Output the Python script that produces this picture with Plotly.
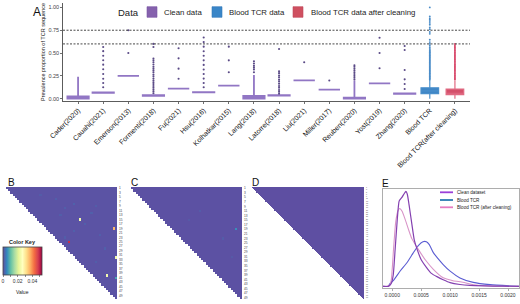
import plotly.graph_objects as go

FONT = "Liberation Sans, Arial, Helvetica, sans-serif"
W, H = 520, 304

# ---------------- Panel A data ----------------
categories = ["Cader(2020)", "Cauahi(2021)", "Emerson(2013)", "Formenti(2018)", "Fu(2021)",
              "Hsu(2016)", "Kolhatkar(2015)", "Lang(2018)", "Latorre(2018)", "Liu(2021)",
              "Miller(2017)", "Reuben(2020)", "Yost(2019)", "Zhang(2020)", "Blood TCR",
              "Blood TCR(after cleaning)"]
clean_cats = categories[:14]
clean_q1     = [0.000, 0.063, 0.250, 0.032, 0.111, 0.070, 0.143, 0.000, 0.033, 0.200, 0.100, 0.000, 0.167, 0.052]
clean_median = [0.020, 0.066, 0.250, 0.036, 0.111, 0.071, 0.143, 0.020, 0.036, 0.200, 0.100, 0.006, 0.167, 0.055]
clean_q3     = [0.025, 0.068, 0.250, 0.040, 0.111, 0.073, 0.143, 0.030, 0.040, 0.200, 0.100, 0.012, 0.167, 0.058]
clean_low    = [0.000, 0.063, 0.250, 0.032, 0.111, 0.070, 0.143, 0.000, 0.033, 0.200, 0.100, 0.000, 0.167, 0.052]
clean_high   = [0.240, 0.068, 0.250, 0.040, 0.111, 0.073, 0.143, 0.260, 0.040, 0.200, 0.100, 0.200, 0.167, 0.058]

cader_out = []
cauahi_out = [0.125, 0.172, 0.219, 0.270, 0.322, 0.373, 0.421, 0.471, 0.521, 0.566]
emerson_out = [0.50, 0.75]
formenti_out = [0.06, 0.08, 0.10, 0.12, 0.14, 0.16, 0.18, 0.20, 0.22, 0.245, 0.265, 0.29, 0.31,
                0.33, 0.35, 0.375, 0.40, 0.42, 0.44, 0.566, 0.60]
fu_out = [0.219, 0.329, 0.442, 0.552]
hsu_out = [0.125, 0.172, 0.22, 0.27, 0.32, 0.37, 0.42, 0.47, 0.52, 0.57, 0.62, 0.67]
kolhatkar_out = [0.29, 0.42, 0.57]
lang_out = [0.29, 0.32, 0.34, 0.36, 0.385, 0.41]
latorre_out = [0.055, 0.075, 0.095, 0.12, 0.14, 0.165, 0.19, 0.21, 0.235, 0.255, 0.28, 0.30, 0.544]
liu_out = [0.40]
miller_out = [0.20]
reuben_out = [0.21, 0.23, 0.25, 0.27, 0.29, 0.31, 0.33, 0.35, 0.366]
yost_out = [0.333, 0.50, 0.668]
zhang_out = [0.106, 0.161, 0.212, 0.314, 0.533, 0.577]
clean_outliers = [cader_out, cauahi_out, emerson_out, formenti_out, fu_out, hsu_out, kolhatkar_out,
                  lang_out, latorre_out, liu_out, miller_out, reuben_out, yost_out, zhang_out]

blood_stats = dict(q1=0.055, median=0.085, q3=0.120, low=0.0, high=0.205)
blood_out = [0.21, 0.22, 0.23, 0.24, 0.25, 0.26, 0.27, 0.28, 0.29, 0.30, 0.31, 0.32, 0.33, 0.34,
             0.35, 0.36, 0.37, 0.38, 0.39, 0.40, 0.41, 0.42, 0.43, 0.44, 0.45, 0.46, 0.47, 0.48,
             0.49, 0.50, 0.51, 0.52, 0.53, 0.545, 0.56, 0.58, 0.60, 0.62, 0.645, 0.71, 0.73,
             0.76, 0.78, 0.81, 0.83, 0.85, 0.865, 0.88, 0.90, 1.00]
after_stats = dict(q1=0.044, median=0.060, q3=0.106, low=0.0, high=0.200)
after_out = [0.21, 0.222, 0.234, 0.246, 0.258, 0.27, 0.282, 0.294, 0.306, 0.318, 0.33, 0.342,
             0.354, 0.366, 0.378, 0.39, 0.402, 0.414, 0.426, 0.438, 0.45, 0.462, 0.474, 0.486,
             0.498, 0.51, 0.522, 0.534, 0.546, 0.558, 0.57, 0.585, 0.60]
threshold_lines = [0.75, 0.60]
y_ticks_a = [0.0, 0.25, 0.5, 0.75, 1.0]
y_ticktext_a = ["0.00", "0.25", "0.50", "0.75", "1.00"]

# ---------------- Panels B-D data (heatmaps) ----------------
B_N, B_base = 50, 0.0004
B_cells = [(14, 33, 0.024), (18, 48, 0.036), (24, 28, 0.049), (31, 49, 0.024), (39, 45, 0.024),
           (40, 49, 0.008), (5, 22, 0.0015), (7, 30, 0.0018), (9, 26, 0.0015), (11, 38, 0.0016),
           (12, 24, 0.0014), (16, 35, 0.0015), (19, 30, 0.0016), (21, 42, 0.0015), (8, 40, 0.0014),
           (27, 44, 0.0016), (33, 40, 0.0014), (3, 15, 0.0012), (22, 26, 0.0014)]
C_N, C_base = 49, 0.0002
C_cells = [(18, 46, 0.006), (10, 30, 0.0012), (14, 25, 0.001), (22, 40, 0.0012), (30, 44, 0.001)]
D_N, D_base = 100, 0.0
spectral_r = ["#5E4FA2", "#3288BD", "#66C2A5", "#ABDDA4", "#E6F598", "#FFFFBF",
              "#FEE08B", "#FDAE61", "#F46D43", "#D53E4F", "#9E0142"]
key_ticks = [0, 0.01, 0.02, 0.03, 0.04, 0.05]
key_ticktext = ["0", "", "0.02", "", "0.04", ""]

# ---------------- Panel E data (densities) ----------------
clean_x = [-0.00016, -0.00007, -0.000017, 0.000017, 0.00005, 0.000086, 0.00012, 0.00017, 0.000236,
           0.00026, 0.00029, 0.00034, 0.00038, 0.00043, 0.0005, 0.00059, 0.00067, 0.00078, 0.00088,
           0.001, 0.00117, 0.00134, 0.0016, 0.0019, 0.00219]
clean_y = [0, 0, 0.03, 0.12, 0.39, 0.70, 0.90, 0.94, 1.0, 0.97, 0.86, 0.65, 0.49, 0.39, 0.28, 0.20,
           0.14, 0.10, 0.07, 0.04, 0.02, 0.01, 0.005, 0.002, 0]
blood_x = [-0.00016, -0.00007, -0.000034, 0.000017, 0.00014, 0.00025, 0.00036, 0.00045, 0.00053,
           0.00059, 0.00064, 0.00071, 0.00078, 0.00088, 0.001, 0.00117, 0.0014, 0.00169, 0.00219]
blood_y = [0, 0, 0.034, 0.06, 0.165, 0.246, 0.35, 0.43, 0.47, 0.47, 0.44, 0.355, 0.30, 0.23, 0.16,
           0.089, 0.042, 0.018, 0.002]
cleaned_x = [-0.00016, -0.00012, -0.00005, -0.000017, 0.000022, 0.00006, 0.0001, 0.00013, 0.00017,
             0.00022, 0.00028, 0.00034, 0.00045, 0.00057, 0.00071, 0.00088, 0.00105, 0.00122,
             0.0014, 0.00169, 0.00219]
cleaned_y = [0, 0, 0.007, 0.07, 0.39, 0.68, 0.80, 0.82, 0.79, 0.71, 0.60, 0.50, 0.39, 0.28, 0.18,
             0.09, 0.06, 0.044, 0.018, 0.004, 0]
e_ticks = [0, 0.0005, 0.001, 0.0015, 0.002]
e_ticktext = ["0.0000", "0.0005", "0.0010", "0.0015", "0.0020"]

# colours
CLEAN_LINE, CLEAN_FILL, CLEAN_PT = "#9176c4", "#a58fd2", "#5a4a86"
BLOOD_LINE, BLOOD_FILL, BLOOD_PT = "#4a8fcb", "#3f86c6", "#4a8cc8"
AFTER_LINE, AFTER_FILL, AFTER_PT = "#e06a82", "#d4506a", "#d8486a"


def px(x):
    return x / W


def py(y):
    return 1 - y / H


fig = go.Figure()

# ---- Panel A boxes ----
fig.add_trace(go.Box(x=clean_cats, q1=clean_q1, median=clean_median, q3=clean_q3,
                     lowerfence=clean_low, upperfence=clean_high, boxpoints=False,
                     width=0.85, whiskerwidth=0, fillcolor=CLEAN_FILL,
                     line=dict(color=CLEAN_LINE, width=1.8), showlegend=False,
                     xaxis="x", yaxis="y"))
ox, oy = [], []
for cat, outs in zip(clean_cats, clean_outliers):
    for v in outs:
        ox.append(cat)
        oy.append(v)
fig.add_trace(go.Scatter(x=ox, y=oy, mode="markers", marker=dict(size=2.1, color=CLEAN_PT),
                         showlegend=False, xaxis="x", yaxis="y"))

for cat, st, outs, lc, fc, pc in [(categories[14], blood_stats, blood_out, BLOOD_LINE, BLOOD_FILL, BLOOD_PT),
                                  (categories[15], after_stats, after_out, AFTER_LINE, AFTER_FILL, AFTER_PT)]:
    fig.add_trace(go.Box(x=[cat], q1=[st["q1"]], median=[st["median"]], q3=[st["q3"]],
                         lowerfence=[st["low"]], upperfence=[st["high"]], boxpoints=False,
                         width=0.7, whiskerwidth=0, fillcolor=fc, line=dict(color=lc, width=1.2),
                         showlegend=False, xaxis="x", yaxis="y"))
    fig.add_trace(go.Scatter(x=[cat] * len(outs), y=outs, mode="markers",
                             marker=dict(size=1.9, color=pc), showlegend=False, xaxis="x", yaxis="y"))


# ---- Heatmaps ----
def tri_matrix(n, base, cells):
    z = [[(base if j >= i else None) for j in range(n)] for i in range(n)]
    for (r, c, v) in cells:
        z[r][c] = v
    return z


colorscale = [[i / (len(spectral_r) - 1), c] for i, c in enumerate(spectral_r)]
for idx, (n, base, cells) in enumerate([(B_N, B_base, B_cells), (C_N, C_base, C_cells), (D_N, D_base, [])]):
    ax = idx + 2
    tr = go.Heatmap(z=tri_matrix(n, base, cells), x=list(range(n)), y=list(range(n)),
                    colorscale=colorscale, zmin=0, zmax=0.053, xaxis=f"x{ax}", yaxis=f"y{ax}",
                    hoverongaps=False, showscale=(idx == 0))
    if idx == 0:
        tr.colorbar = dict(orientation="h", x=px(3), xanchor="left", y=py(247), yanchor="top",
                           len=39, lenmode="pixels", thickness=28, thicknessmode="pixels",
                           xpad=0, ypad=0, outlinewidth=0.8, outlinecolor="#444",
                           tickvals=key_ticks, ticktext=key_ticktext, ticks="outside", ticklen=2,
                           tickwidth=0.6, tickfont=dict(size=5, family=FONT, color="#333"),
                           title=dict(text="", side="top"))
    fig.add_trace(tr)

# ---- Panel E densities ----
fig.add_trace(go.Scatter(x=blood_x, y=blood_y, mode="lines", line=dict(color="#5a5cd2", width=1.1, shape="spline", smoothing=0.5),
                         showlegend=False, xaxis="x5", yaxis="y5"))
fig.add_trace(go.Scatter(x=cleaned_x, y=cleaned_y, mode="lines", line=dict(color="#d894c8", width=1.1, shape="spline", smoothing=0.5),
                         showlegend=False, xaxis="x5", yaxis="y5"))
fig.add_trace(go.Scatter(x=clean_x, y=clean_y, mode="lines", line=dict(color="#8440b0", width=1.2, shape="spline", smoothing=0.5),
                         showlegend=False, xaxis="x5", yaxis="y5"))

# ---- Layout ----
hm_axes = {}
heat_boxes = [(6, 117, B_N, 2, 3.2), (131, 242, C_N, 2, 3.2), (252, 364, D_N, 2, 1.8)]
for idx, (x0, x1, n, step, fs) in enumerate(heat_boxes):
    ax = idx + 2
    hm_axes[f"xaxis{ax}"] = dict(domain=[px(x0), px(x1)], anchor=f"y{ax}", range=[-0.5, n - 0.5],
                                 showgrid=False, zeroline=False, showticklabels=False, showline=False,
                                 automargin=False)
    hm_axes[f"yaxis{ax}"] = dict(domain=[py(299), py(187)], anchor=f"x{ax}", range=[n - 0.5, -0.5],
                                 side="right", showgrid=False, zeroline=False, showline=False,
                                 tickvals=list(range(0, n, step)),
                                 ticktext=[str(i + 1) for i in range(0, n, step)],
                                 tickfont=dict(size=fs, family=FONT, color="#444"), ticks="",
                                 ticklabelstandoff=1, automargin=False)

fig.update_layout(
    width=W, height=H, margin=dict(l=0, r=0, t=0, b=0, pad=0, autoexpand=False),
    paper_bgcolor="white", plot_bgcolor="white",
    font=dict(family=FONT, color="#222"),
    boxmode="overlay",
    xaxis=dict(domain=[px(63), px(470)], anchor="y", type="category", categoryorder="array",
               categoryarray=categories, range=[-0.6, 15.6], tickangle=-45, automargin=False,
               tickfont=dict(size=7, family=FONT, color="#111"), showline=True, linecolor="#333",
               linewidth=0.8, ticks="outside", ticklen=2, tickwidth=0.7, tickcolor="#333",
               showgrid=False, zeroline=False),
    yaxis=dict(domain=[py(101), py(3)], anchor="x", range=[-0.025, 1.048], tickvals=y_ticks_a,
               ticktext=y_ticktext_a, tickfont=dict(size=5.5, family=FONT, color="#444"),
               showline=True, linecolor="#333", linewidth=0.8, ticks="outside", ticklen=2,
               tickwidth=0.7, tickcolor="#333", showgrid=False, zeroline=False, automargin=False,
               title=dict(text="Prevalence proportion of TCR sequence", standoff=2,
                          font=dict(size=5.5, family=FONT, color="#222"))),
    xaxis5=dict(domain=[px(383), px(519)], anchor="y5", range=[-0.00016, 0.00219], tickvals=e_ticks,
                ticktext=e_ticktext, tickfont=dict(size=5, family=FONT, color="#333"),
                showline=True, mirror=True, linecolor="#999", linewidth=0.8, ticks="outside",
                ticklen=2, tickwidth=0.6, tickcolor="#777", showgrid=False, zeroline=False,
                automargin=False),
    yaxis5=dict(domain=[py(288), py(189)], anchor="x5", range=[-0.017, 1.025], showticklabels=False,
                showline=True, mirror=True, linecolor="#999", linewidth=0.8, ticks="",
                showgrid=False, zeroline=False, automargin=False),
    **hm_axes,
)

shapes = []
for v in threshold_lines:
    shapes.append(dict(type="line", xref="x domain", yref="y", x0=0, x1=1, y0=v, y1=v,
                       line=dict(color="#333", width=0.9, dash="2px,1.5px")))
# legend A swatches
for x0, col, lc in [(147, "#8561ad", "#7a55a5"), (212, "#3a86c8", "#3479b8"), (293, "#cf5060", "#c0475a")]:
    shapes.append(dict(type="rect", xref="paper", yref="paper", x0=px(x0), x1=px(x0 + 10),
                       y0=py(17.3), y1=py(6.7), fillcolor=col, line=dict(color=lc, width=0.6)))
# legend E lines
for yy, col in [(192.3, "#9a3fd8"), (200, "#2a7bb2"), (207.3, "#e67cc2")]:
    shapes.append(dict(type="line", xref="paper", yref="paper", x0=px(440), x1=px(453),
                       y0=py(yy), y1=py(yy), line=dict(color=col, width=1.8)))
fig.update_layout(shapes=shapes)

ann = []


def text(x, y, s, size, anchor="left", color="#222"):
    ann.append(dict(x=px(x), y=py(y), xref="paper", yref="paper", text=s, showarrow=False,
                    xanchor=anchor, yanchor="middle", font=dict(size=size, family=FONT, color=color)))


text(31, 12, "A", 12, color="#111")
text(6, 182.5, "B", 10, color="#111")
text(129, 182.5, "C", 10, color="#111")
text(250, 182.5, "D", 10, color="#111")
text(380, 183, "E", 10, color="#111")
text(116, 12, "Data", 9.5)
text(162, 12, "Clean data", 7.8)
text(226.5, 12, "Blood TCR data", 7.8)
text(309, 12, "Blood TCR data after cleaning", 7.8)
text(455, 192.3, "Clean dataset", 4.6)
text(455, 200, "Blood TCR", 4.6)
text(455, 207.3, "Blood TCR (after cleaning)", 4.6)
text(22.5, 242, "<b>Color Key</b>", 5.5, anchor="center")
text(22.5, 291.5, "Value", 5, anchor="center")
fig.update_layout(annotations=ann)

fig.write_html("out.html", config={"displayModeBar": False, "staticPlot": True},
               post_script="document.body.style.margin='0';document.body.style.padding='0';")
